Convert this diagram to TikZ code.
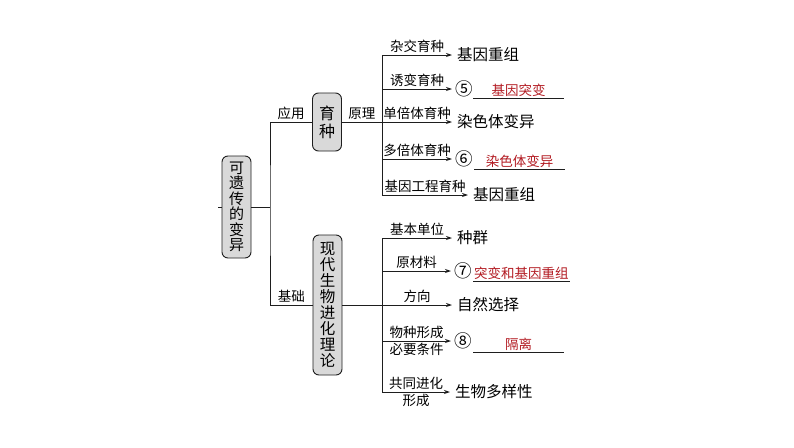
\documentclass[tikz,border=0pt]{standalone}
\usepackage{fontspec}
\setmainfont{Noto Sans CJK SC}
\usetikzlibrary{positioning, arrows.meta, calc}
\definecolor{boxFill}{HTML}{D9D9D9}
\definecolor{lineMain}{HTML}{1E1E1E}
\definecolor{answerRed}{HTML}{B31B22}
\tikzset{
  topicbox/.style={draw=lineMain, fill=boxFill, rounded corners=6pt,
    minimum width=29pt, inner sep=0pt, line width=0.9pt, align=center,
    font=\fontsize{15.5}{16}\selectfont, text=black},
  edgelabel/.style={font=\fontsize{13.5}{14}\selectfont, inner sep=2pt, text=black},
  result/.style={anchor=west, inner xsep=5pt, inner ysep=1pt,
    font=\fontsize{15.5}{17}\selectfont, text=black},
  circnum/.style={anchor=west, inner xsep=3pt, inner ysep=1pt,
    font=\fontsize{17.5}{19}\selectfont, text=black},
  answer/.style={anchor=south west, inner sep=1pt, minimum width=91pt,
    font=\fontsize{13.5}{14}\selectfont, text=answerRed},
  treeline/.style={line width=0.9pt, draw=lineMain},
  stdarrow/.style={treeline, -{Stealth[length=6pt, width=4pt]}},
}

\begin{document}
\begin{tikzpicture}[x=1pt, y=-1pt]
  \useasboundingbox[fill=white] (0,0) rectangle (794,447);

  % === Root node ===
  \node[topicbox, minimum height=102pt, font=\fontsize{15}{15.5}\selectfont] (root) at (236.5,207) {可\\遗\\传\\的\\变\\异};
  \draw[treeline] (root.west) -- ++(-4,0);
  \coordinate (split) at (270,207);

  % === Second level: two topics ===
  \node[topicbox, minimum height=58pt, font=\fontsize{16}{18}\selectfont] (breed) at (327,122) {育\\种};
  \node[topicbox, minimum height=140pt] (evo) at (327.5,305) {现\\代\\生\\物\\进\\化\\理\\论};

  \draw[treeline] (root.east) -- (split);
  \draw[treeline] (breed.west) -| node[pos=0.25, above, edgelabel] {应用} (split)
    |- node[pos=0.75, above, edgelabel] {基础} (evo.west);

  % === Breeding: principles ===
  \coordinate (bj) at (382,122);
  \coordinate (b1) at (382,55);
  \coordinate (b2) at (382,89);
  \coordinate (b4) at (382,159);
  \coordinate (b5) at (382,195);
  \draw[treeline] (breed.east) -- node[above, edgelabel] {原理} (bj);
  \draw[treeline] (b1) -- (b5);

  \node[result] (r1) at (452,55) {基因重组};
  \node[circnum] (r2) at (452,89) {⑤};
  \node[result] (r3) at (452,122) {染色体变异};
  \node[circnum] (r4) at (452,159) {⑥};
  \node[result] (r5) at (468,195) {基因重组};

  \draw[stdarrow] (b1) -- node[above, edgelabel] {杂交育种} (r1);
  \draw[stdarrow] (b2) -- node[above, edgelabel] {诱变育种} (r2);
  \draw[stdarrow] (bj) -- node[above, edgelabel] {单倍体育种} (r3);
  \draw[stdarrow] (b4) -- node[above, edgelabel] {多倍体育种} (r4);
  \draw[stdarrow] (b5) -- node[above, edgelabel] {基因工程育种} (r5);

  % answers with underline
  \node[answer] (a2) at (473,98) {基因突变};
  \draw[treeline] (a2.south west) -- (a2.south east);
  \node[answer] (a4) at (474,169) {染色体变异};
  \draw[treeline] (a4.south west) -- (a4.south east);

  % === Evolution theory ===
  \coordinate (ej) at (382,305);
  \coordinate (e1) at (382,238);
  \coordinate (e2) at (382,271);
  \coordinate (e4) at (382,341);
  \coordinate (e5) at (382,392);
  \draw[treeline] (evo.east) -- (ej);
  \draw[treeline] (e1) -- (e5);

  \node[result] (s1) at (452,238) {种群};
  \node[circnum] (s2) at (451,271) {⑦};
  \node[result] (s3) at (452,305) {自然选择};
  \node[circnum] (s4) at (451,341) {⑧};
  \node[result] (s5) at (450,392) {生物多样性};

  \draw[stdarrow] (e1) -- node[above, edgelabel] {基本单位} (s1);
  \draw[stdarrow] (e2) -- node[above, edgelabel] {原材料} (s2);
  \draw[stdarrow] (ej) -- node[above, edgelabel] {方向} (s3);
  \draw[stdarrow] (e4) -- node[above, edgelabel] {物种形成}
    node[below, edgelabel] {必要条件} (s4);
  \draw[stdarrow] (e5) -- node[above, edgelabel] {共同进化}
    node[below, edgelabel] {形成} (s5);

  % answers with underline
  \node[answer, minimum width=93pt] (a7) at (473,281) {突变和基因重组};
  \draw[treeline] (a7.south west) -- (a7.south east);
  \node[answer] (a8) at (473,352) {隔离};
  \draw[treeline] (a8.south west) -- (a8.south east);

\end{tikzpicture}
\end{document}
